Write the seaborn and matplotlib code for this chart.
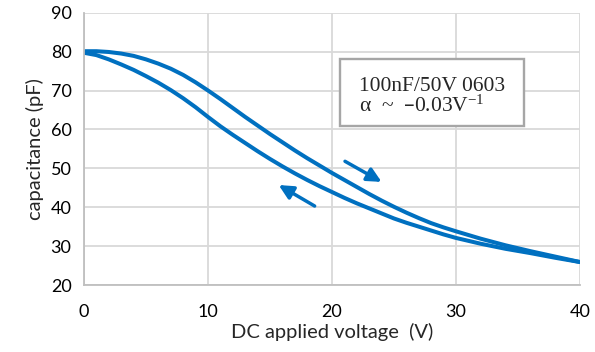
import numpy as np
import matplotlib
matplotlib.use("Agg")
import matplotlib.pyplot as plt
from matplotlib.patches import Rectangle
import seaborn as sns
import pandas as pd

# values
voltage = [0, 1, 2, 3, 4, 5, 6, 7, 8, 9, 10, 11, 12, 13, 14, 15, 16, 17, 18, 19, 20,
           21, 22, 23, 24, 25, 26, 27, 28, 29, 30, 32, 34, 36, 38, 40]
cap_up = [80.1, 80.1, 79.9, 79.5, 78.9, 78.0, 76.9, 75.6, 74.0, 72.1, 70.0, 67.8, 65.5, 63.2,
          61.0, 58.8, 56.7, 54.6, 52.6, 50.7, 48.8, 47.0, 45.2, 43.4, 41.7, 40.1, 38.6, 37.2,
          35.9, 34.8, 33.8, 31.9, 30.2, 28.7, 27.3, 25.9]
cap_down = [79.7, 79.1, 78.0, 76.7, 75.3, 73.7, 72.0, 70.1, 68.0, 65.7, 63.2, 60.8, 58.6, 56.5,
            54.4, 52.4, 50.5, 48.7, 47.0, 45.4, 43.9, 42.4, 41.0, 39.7, 38.4, 37.1, 36.0, 35.0,
            34.0, 33.0, 32.1, 30.6, 29.3, 28.2, 27.0, 25.9]

# arrows (tail -> head), in data units
arrow_up = [(21.05, 51.8), (24.0, 46.5)]
arrow_down = [(18.6, 40.3), (15.7, 45.7)]

note_lines = ["100nF/50V 0603", "\u03b1  ~  \u20130.03V$\\mathregular{^{-1}}$"]

x_ticks = [0, 10, 20, 30, 40]
y_ticks = [20, 30, 40, 50, 60, 70, 80, 90]

sns.set_style("white")
plt.rcParams['font.family'] = ['Lato', 'DejaVu Sans']

blue = "#0070C0"
grid_c = "#d9d9d9"

df = pd.DataFrame({
    "V": voltage + voltage,
    "C": cap_up + cap_down,
    "sweep": ["up"] * len(voltage) + ["down"] * len(voltage),
})

fig = plt.figure(figsize=(5.95, 3.52), dpi=100)
ax = fig.add_axes([84 / 595, 1 - 285 / 352, 496 / 595, (285 - 12.7) / 352])

sns.lineplot(data=df, x="V", y="C", units="sweep", estimator=None,
             color=blue, lw=2.9, ax=ax, legend=False, sort=False)

ax.set_xlim(0, 40)
ax.set_ylim(20, 90)
ax.set_xticks(x_ticks)
ax.set_yticks(y_ticks)
ax.grid(True, color=grid_c, lw=1.3)
ax.set_axisbelow(True)
for s in ["top", "right"]:
    ax.spines[s].set_visible(False)
for s in ["left", "bottom"]:
    ax.spines[s].set_color("#bfbfbf")
    ax.spines[s].set_linewidth(1.3)
ax.tick_params(length=0, labelsize=13, colors="#000000")
ax.tick_params(axis="x", pad=14)
ax.tick_params(axis="y", pad=9)

ax.set_xlabel("DC applied voltage  (V)", fontsize=14.5, labelpad=2)
ax.set_ylabel("capacitance (pF)", fontsize=14.5, labelpad=5)

for (x0, y0), (x1, y1) in [arrow_up, arrow_down]:
    ax.annotate("", xy=(x1, y1), xytext=(x0, y0),
                arrowprops=dict(arrowstyle="-|>,head_length=0.85,head_width=0.42",
                                color=blue, lw=2.5, shrinkA=0, shrinkB=0))

# note box
ax.add_patch(Rectangle((20.65, 60.8), 35.48 - 20.65, 78.1 - 60.8,
                       fc="white", ec="#a6a6a6", lw=1.7, zorder=4))
ax.text(22.2, 70.0, note_lines[0], ha="left", va="baseline",
        fontsize=15.5, family="Liberation Serif", zorder=5)
ax.text(22.2, 64.65, note_lines[1], ha="left", va="baseline",
        fontsize=15.5, family="Liberation Serif", zorder=5)

fig.savefig("out.png", dpi=100)
